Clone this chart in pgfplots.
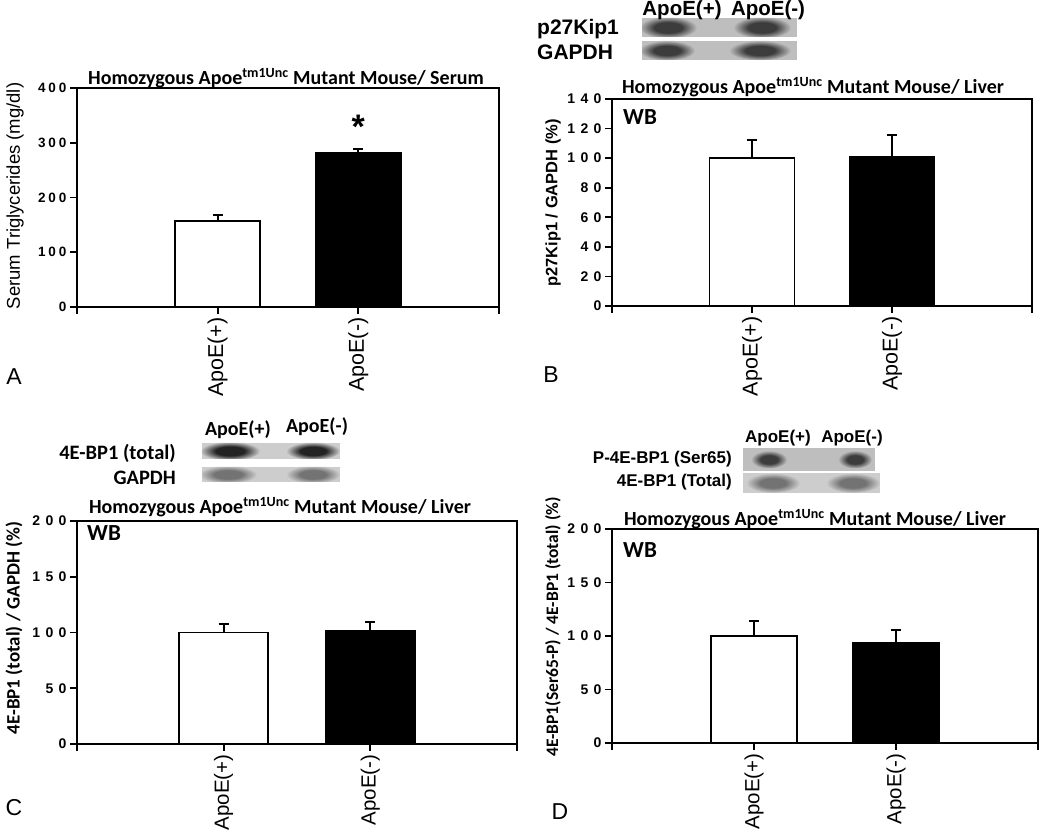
\documentclass[border=0pt]{standalone}
\usepackage{pgfplots}
\pgfplotsset{compat=1.18}
\usepackage{fontspec}
\setmainfont{Liberation Sans}
\newfontfamily\calfont{Carlito}
\newfontfamily\tickf{Liberation Sans}[LetterSpace=22]
\newfontfamily\tickfw{Liberation Sans}[LetterSpace=38]
\definecolor{blotbg}{RGB}{190,190,190}
\definecolor{blotbg2}{RGB}{205,205,205}
\definecolor{band}{RGB}{60,60,60}
\definecolor{bandc}{RGB}{35,35,35}
\definecolor{band2}{RGB}{115,115,115}
\pgfdeclareradialshading{bandA}{\pgfpoint{0bp}{0bp}}{color(0bp)=(band); color(12bp)=(band); color(25bp)=(blotbg); color(50bp)=(blotbg)}
\pgfdeclareradialshading{bandC}{\pgfpoint{0bp}{0bp}}{color(0bp)=(bandc); color(12bp)=(bandc); color(25bp)=(blotbg2); color(50bp)=(blotbg2)}
\pgfdeclareradialshading{bandL}{\pgfpoint{0bp}{0bp}}{color(0bp)=(band2); color(12bp)=(band2); color(25bp)=(blotbg2); color(50bp)=(blotbg2)}
\pgfplotsset{panel/.style={
  scale only axis, clip=false, anchor=south west,
  xmin=0, xmax=3, xtick={0,1,2,3}, xticklabels={,ApoE(+),ApoE(-),},
  ymin=0, tick pos=left,
  tick align=outside, major tick length=7pt,
  axis line style={line width=1.8pt},
  every tick/.style={black, line width=1.8pt},
  x tick label style={rotate=90, anchor=east, font=\fontsize{21.5}{22}\selectfont},
  y tick label style={font=\tickfw\bfseries\fontsize{14}{14}\selectfont},
  /pgf/number format/assume math mode=true,
  ybar, bar shift=0pt,
  error bars/error bar style={line width=1.8pt, black},
  error bars/error mark options={rotate=90, mark size=5pt, line width=1.8pt, black},
}}
\begin{document}
\begin{tikzpicture}[x=1pt,y=1pt]
\useasboundingbox (0,0) rectangle (1050,830);
% Panel A
\begin{axis}[panel, at={(77pt,523pt)}, width=422pt, height=219pt, ymax=400, ytick={0,100,200,300,400}, bar width=85pt,
  y tick label style={font=\tickf\bfseries\fontsize{13.5}{14}\selectfont}]
\addplot[fill=white, draw=black, line width=1.8pt, error bars/.cd, y dir=plus, y explicit] coordinates {(1,157) +- (0,11)};
\addplot[fill=black, draw=black, line width=1.8pt, error bars/.cd, y dir=plus, y explicit] coordinates {(2,281) +- (0,7)};
\node[font=\bfseries\fontsize{34}{34}\selectfont] at (axis cs:2,330) {*};
\end{axis}
% Panel B
\begin{axis}[panel, at={(612pt,524pt)}, width=420pt, height=207pt, ymax=140, ytick={0,20,...,140}, bar width=85pt]
\addplot[fill=white, draw=black, line width=1.8pt, error bars/.cd, y dir=plus, y explicit] coordinates {(1,100) +- (0,12)};
\addplot[fill=black, draw=black, line width=1.8pt, error bars/.cd, y dir=plus, y explicit] coordinates {(2,101) +- (0,14.5)};
\end{axis}
% Panel C
\begin{axis}[panel, at={(77pt,86pt)}, width=440pt, height=223pt, ymax=200, ytick={0,50,...,200}, bar width=89pt,
  x tick label style={font=\fontsize{20.5}{21}\selectfont}]
\addplot[fill=white, draw=black, line width=1.8pt, error bars/.cd, y dir=plus, y explicit] coordinates {(1,100) +- (0,7.5)};
\addplot[fill=black, draw=black, line width=1.8pt, error bars/.cd, y dir=plus, y explicit] coordinates {(2,101.5) +- (0,8)};
\end{axis}
% Panel D
\begin{axis}[panel, at={(612pt,87pt)}, width=426pt, height=214pt, ymax=200, ytick={0,50,...,200}, bar width=86pt,
  x tick label style={font=\fontsize{20.5}{21}\selectfont}]
\addplot[fill=white, draw=black, line width=1.8pt, error bars/.cd, y dir=plus, y explicit] coordinates {(1,100) +- (0,14)};
\addplot[fill=black, draw=black, line width=1.8pt, error bars/.cd, y dir=plus, y explicit] coordinates {(2,94) +- (0,11.5)};
\end{axis}
\begin{scope}[y=-1pt, shift={(0pt,830pt)}]
% titles
\node[font=\calfont\bfseries\fontsize{20}{20}\selectfont] at (286,78) {Homozygous Apoe\textsuperscript{tm1Unc} Mutant Mouse/ Serum};
\node[font=\calfont\bfseries\fontsize{20}{20}\selectfont] at (813,87) {Homozygous Apoe\textsuperscript{tm1Unc} Mutant Mouse/ Liver};
\node[font=\calfont\bfseries\fontsize{20}{20}\selectfont] at (280,507) {Homozygous Apoe\textsuperscript{tm1Unc} Mutant Mouse/ Liver};
\node[font=\calfont\bfseries\fontsize{20}{20}\selectfont] at (815,519) {Homozygous Apoe\textsuperscript{tm1Unc} Mutant Mouse/ Liver};
% WB
\node[font=\calfont\bfseries\fontsize{23}{23}\selectfont, anchor=west, inner sep=0] at (623,117) {WB};
\node[font=\calfont\bfseries\fontsize{23}{23}\selectfont, anchor=west, inner sep=0] at (87,533) {WB};
\node[font=\calfont\bfseries\fontsize{23}{23}\selectfont, anchor=west, inner sep=0] at (623,550) {WB};
% y labels
\node[rotate=90, font=\fontsize{18.5}{19}\selectfont] at (15,196) {Serum Triglycerides (mg/dl)};
\node[rotate=90, font=\bfseries\fontsize{16.5}{17}\selectfont] at (553,203) {p27Kip1 / GAPDH (\%)};
\node[rotate=90, font=\calfont\bfseries\fontsize{19}{19}\selectfont] at (14,628) {4E-BP1 (total) / GAPDH (\%)};
\node[rotate=90, font=\calfont\bfseries\fontsize{17.5}{18}\selectfont] at (553,627) {4E-BP1(Ser65-P) / 4E-BP1 (total) (\%)};
% panel letters
\node[font=\fontsize{23}{23}\selectfont] at (14,377) {A};
\node[font=\fontsize{23}{23}\selectfont] at (551,375) {B};
\node[font=\fontsize{23}{23}\selectfont] at (14,808) {C};
\node[font=\fontsize{23}{23}\selectfont] at (560,812) {D};
% blot B
\fill[blotbg] (642,18) rectangle (797,37);
\fill[blotbg] (642,41) rectangle (797,60);
\begin{scope}
\clip (642,18) rectangle (797,37) (642,41) rectangle (797,60);
\shade[shading=bandA] (668,27.5) ellipse (29 and 11);
\shade[shading=bandA] (762,27.5) ellipse (29 and 11);
\shade[shading=bandA] (667,50.5) ellipse (28 and 10);
\shade[shading=bandA] (760,50.5) ellipse (31 and 10);
\end{scope}
\node[font=\bfseries\fontsize{20.5}{21}\selectfont] at (682,10) {ApoE(+)};
\node[font=\bfseries\fontsize{20.5}{21}\selectfont] at (768,10) {ApoE(-)};
\node[font=\bfseries\fontsize{21}{21}\selectfont, anchor=west, inner sep=0] at (537,29) {p27Kip1};
\node[font=\bfseries\fontsize{21}{21}\selectfont, anchor=west, inner sep=0] at (537,52) {GAPDH};
% blot C
\fill[blotbg2] (202,443) rectangle (340,459);
\fill[blotbg2] (202,467) rectangle (340,482);
\begin{scope}
\clip (202,443) rectangle (340,459) (202,467) rectangle (340,482);
\shade[shading=bandC] (230,451) ellipse (30 and 9.5);
\shade[shading=bandC] (313,451) ellipse (27 and 9);
\shade[shading=bandL] (228,474.5) ellipse (29 and 9);
\shade[shading=bandL] (313,474.5) ellipse (27 and 9);
\end{scope}
\node[font=\calfont\bfseries\fontsize{20}{20}\selectfont] at (238,430) {ApoE(+)};
\node[font=\calfont\bfseries\fontsize{20}{20}\selectfont] at (317,427) {ApoE(-)};
\node[font=\calfont\bfseries\fontsize{20.5}{21}\selectfont, anchor=east, inner sep=0] at (176,453) {4E-BP1 (total)};
\node[font=\calfont\bfseries\fontsize{20.5}{21}\selectfont, anchor=east, inner sep=0] at (176,478) {GAPDH};
% blot D
\fill[blotbg] (743,448) rectangle (875,471);
\fill[blotbg2] (743,473) rectangle (880,493);
\begin{scope}
\clip (743,448) rectangle (875,471) (743,473) rectangle (880,493);
\shade[shading=bandA] (769,459.5) ellipse (18 and 9);
\shade[shading=bandA] (855,459.5) ellipse (17 and 9);
\shade[shading=bandL] (773,483) ellipse (27 and 10);
\shade[shading=bandL] (853,483) ellipse (27 and 10);
\end{scope}
\node[font=\bfseries\fontsize{17}{17}\selectfont] at (778,438) {ApoE(+)};
\node[font=\bfseries\fontsize{17}{17}\selectfont] at (852,438) {ApoE(-)};
\node[font=\bfseries\fontsize{17}{17}\selectfont, anchor=east, inner sep=0] at (732,459) {P-4E-BP1 (Ser65)};
\node[font=\bfseries\fontsize{17}{17}\selectfont, anchor=east, inner sep=0] at (732,482) {4E-BP1 (Total)};
\end{scope}
\end{tikzpicture}
\end{document}
